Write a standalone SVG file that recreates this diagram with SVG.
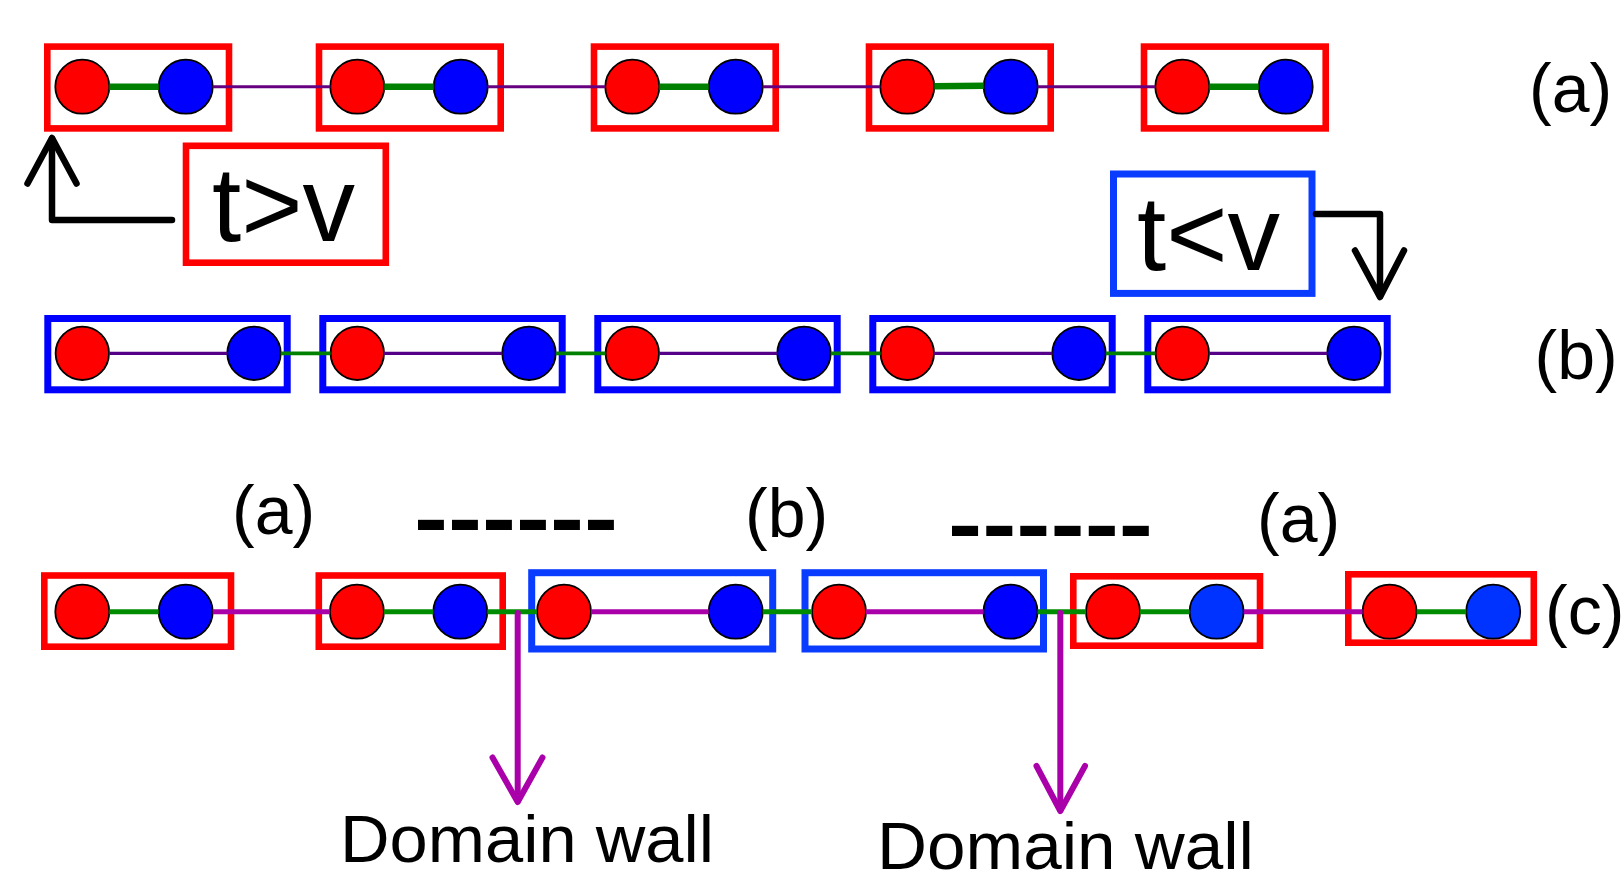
<svg xmlns="http://www.w3.org/2000/svg" width="1622" height="881" viewBox="0 0 1622 881">
<style>
.rbox{fill:none;stroke:#ff0000;stroke-width:6.6}
.bbox{fill:none;stroke:#0000ff;stroke-width:7}
.lbox{fill:none;stroke:#0a3cff;stroke-width:7}
.red{fill:#ff0000;stroke:#000;stroke-width:1.8}
.blue{fill:#0000ff;stroke:#000;stroke-width:1.8}
.blue2{fill:#0033ff;stroke:#000;stroke-width:1.8}
.gA{stroke:#008000;stroke-width:6.5;fill:none}
.pA{stroke:#660080;stroke-width:3;fill:none}
.gB{stroke:#008000;stroke-width:3.8;fill:none}
.pB{stroke:#550088;stroke-width:3.2;fill:none}
.gC{stroke:#008c00;stroke-width:5;fill:none}
.mC{stroke:#aa00aa;stroke-width:5;fill:none}
.arr{stroke:#000;stroke-width:6.5;fill:none;stroke-linecap:round;stroke-linejoin:round}
.dw{stroke:#aa00aa;stroke-width:6;fill:none;stroke-linecap:round;stroke-linejoin:round}
.lbl{font-family:"Liberation Sans",Arial,sans-serif;font-size:68px;fill:#000}
.big{font-family:"Liberation Sans",Arial,sans-serif;font-size:105px;fill:#000}
.dash{font-family:"Liberation Sans",Arial,sans-serif;font-size:85px;font-weight:bold;fill:#000}
.dwt{font-family:"Liberation Sans",Arial,sans-serif;font-size:66px;fill:#000}
</style>

<!-- Row (a) -->
<g id="a1"><rect class="rbox" x="47.3" y="46.6" width="181.7" height="81.8"/><circle class="red" cx="82.3" cy="86.7" r="27"/><circle class="blue" cx="185.7" cy="86.7" r="27"/></g>
<g id="a2"><rect class="rbox" x="319" y="46.6" width="181.7" height="81.8"/><circle class="red" cx="357.3" cy="86.7" r="27"/><circle class="blue" cx="460.7" cy="86.7" r="27"/></g>
<g id="a3"><rect class="rbox" x="594" y="46.6" width="181.7" height="81.8"/><circle class="red" cx="632.3" cy="86.7" r="27"/><circle class="blue" cx="735.7" cy="86.7" r="27"/></g>
<g id="a4"><rect class="rbox" x="869" y="46.6" width="181.7" height="81.8"/><circle class="red" cx="907.3" cy="86.7" r="27"/><circle class="blue" cx="1010.7" cy="86.7" r="27"/></g>
<g id="a5"><rect class="rbox" x="1144" y="46.6" width="181.7" height="81.8"/><circle class="red" cx="1182.3" cy="86.7" r="27"/><circle class="blue" cx="1285.7" cy="86.7" r="27"/></g>
<text id="label-a" class="lbl" x="1529" y="111.7">(a)</text>

<!-- t>v and t<v -->
<g id="tgv"><rect class="rbox" x="186" y="145.8" width="199.8" height="116.9"/><text class="big" x="212" y="241">t&gt;v</text></g>
<g id="tlv"><rect class="lbox" x="1113.5" y="174" width="198.5" height="119.4"/><text class="big" x="1137" y="270">t&lt;v</text></g>

<!-- Row (b) -->
<g id="b1"><rect class="bbox" x="47.8" y="318.5" width="239.4" height="71.3"/><circle class="red" cx="82.3" cy="353.3" r="26.7"/><circle class="blue" cx="254" cy="353.3" r="26.7"/></g>
<g id="b2"><rect class="bbox" x="322.8" y="318.5" width="239.4" height="71.3"/><circle class="red" cx="357.3" cy="353.3" r="26.7"/><circle class="blue" cx="529" cy="353.3" r="26.7"/></g>
<g id="b3"><rect class="bbox" x="597.8" y="318.5" width="239.4" height="71.3"/><circle class="red" cx="632.3" cy="353.3" r="26.7"/><circle class="blue" cx="804" cy="353.3" r="26.7"/></g>
<g id="b4"><rect class="bbox" x="872.8" y="318.5" width="239.4" height="71.3"/><circle class="red" cx="907.3" cy="353.3" r="26.7"/><circle class="blue" cx="1079" cy="353.3" r="26.7"/></g>
<g id="b5"><rect class="bbox" x="1147.8" y="318.5" width="239.4" height="71.3"/><circle class="red" cx="1182.3" cy="353.3" r="26.7"/><circle class="blue" cx="1354" cy="353.3" r="26.7"/></g>
<text id="label-b" class="lbl" x="1534.5" y="379">(b)</text>

<!-- Row (c) -->
<g id="c1"><rect class="rbox" x="44.3" y="575.5" width="186.7" height="71.2"/><circle class="red" cx="82.3" cy="611.7" r="27"/><circle class="blue" cx="185.7" cy="611.7" r="27"/></g>
<g id="c2"><rect class="rbox" x="318.8" y="575.5" width="183.9" height="71.2"/><circle class="red" cx="356.9" cy="611.7" r="27"/><circle class="blue" cx="460.3" cy="611.7" r="27"/></g>
<g id="c3"><rect class="lbox" x="531.7" y="572.7" width="241" height="76.3"/><circle class="red" cx="564" cy="611.7" r="27"/><circle class="blue" cx="735.7" cy="611.7" r="27"/></g>
<g id="c4"><rect class="lbox" x="805" y="572.7" width="238.5" height="76.3"/><circle class="red" cx="839" cy="611.7" r="27"/><circle class="blue" cx="1010.5" cy="611.7" r="27"/></g>
<g id="c5"><rect class="rbox" x="1073.3" y="576.3" width="186.7" height="69.4"/><circle class="red" cx="1113" cy="611.7" r="27"/><circle class="blue2" cx="1216.6" cy="611.7" r="27"/></g>
<g id="c6"><rect class="rbox" x="1348.3" y="574.3" width="185.5" height="68.4"/><circle class="red" cx="1389.6" cy="611.7" r="27"/><circle class="blue2" cx="1493.2" cy="611.7" r="27"/></g>
<text id="label-c" class="lbl" x="1545" y="634">(c)</text>

<text class="lbl" x="232" y="533.5">(a)</text>
<text class="lbl" x="745" y="537">(b)</text>
<text class="lbl" x="1257" y="541.5">(a)</text>
<text class="dash" x="414" y="547" textLength="204" lengthAdjust="spacingAndGlyphs">------</text>
<text class="dash" x="948" y="552.5" textLength="205" lengthAdjust="spacingAndGlyphs">------</text>

<g id="wall1"><text class="dwt" x="340" y="862" textLength="374" lengthAdjust="spacingAndGlyphs">Domain wall</text></g>
<g id="wall2"><text class="dwt" x="877" y="869" textLength="377" lengthAdjust="spacingAndGlyphs">Domain wall</text></g>

<!-- Connectors -->
<g id="connectors">
  <!-- row a -->
  <line class="gA" x1="109.3" y1="86.7" x2="158.7" y2="86.7"/>
  <line class="gA" x1="384.3" y1="86.7" x2="433.7" y2="86.7"/>
  <line class="gA" x1="659.3" y1="86.7" x2="708.7" y2="86.7"/>
  <line class="gA" x1="934.3" y1="86.2" x2="983.7" y2="85.7"/>
  <line class="gA" x1="1209.3" y1="86.7" x2="1258.7" y2="86.7"/>
  <line class="pA" x1="212.7" y1="86.7" x2="330.3" y2="86.7"/>
  <line class="pA" x1="487.7" y1="86.7" x2="605.3" y2="86.7"/>
  <line class="pA" x1="762.7" y1="86.7" x2="880.3" y2="86.7"/>
  <line class="pA" x1="1037.7" y1="86.7" x2="1155.3" y2="86.7"/>
  <!-- row b -->
  <line class="pB" x1="109" y1="353.3" x2="227.3" y2="353.3"/>
  <line class="pB" x1="384" y1="353.3" x2="502.3" y2="353.3"/>
  <line class="pB" x1="659" y1="353.3" x2="777.3" y2="353.3"/>
  <line class="pB" x1="934" y1="353.3" x2="1052.3" y2="353.3"/>
  <line class="pB" x1="1209" y1="353.3" x2="1327.3" y2="353.3"/>
  <line class="gB" x1="280.7" y1="353.3" x2="330.6" y2="353.3"/>
  <line class="gB" x1="555.7" y1="353.3" x2="605.6" y2="353.3"/>
  <line class="gB" x1="830.7" y1="353.3" x2="880.6" y2="353.3"/>
  <line class="gB" x1="1105.7" y1="353.3" x2="1155.6" y2="353.3"/>
  <!-- row c -->
  <line class="gC" x1="109.3" y1="611.7" x2="158.7" y2="611.7"/>
  <line class="mC" x1="212.7" y1="611.7" x2="329.9" y2="611.7"/>
  <line class="gC" x1="383.9" y1="611.7" x2="433.3" y2="611.7"/>
  <line class="gC" x1="487.3" y1="611.7" x2="537" y2="611.7"/>
  <line class="mC" x1="591" y1="611.7" x2="708.7" y2="611.7"/>
  <line class="gC" x1="762.7" y1="611.7" x2="812" y2="611.7"/>
  <line class="mC" x1="866" y1="611.7" x2="983.5" y2="611.7"/>
  <line class="gC" x1="1037.5" y1="611.7" x2="1086" y2="611.7"/>
  <line class="gC" x1="1140" y1="611.7" x2="1189.6" y2="611.7"/>
  <line class="mC" x1="1243.6" y1="611.7" x2="1362.6" y2="611.7"/>
  <line class="gC" x1="1416.6" y1="611.7" x2="1466.2" y2="611.7"/>
  <!-- t>v / t<v arrows -->
  <polyline class="arr" points="172,220 52,220 52,139"/>
  <polyline class="arr" points="27.5,183.5 52,138 76.5,183.5"/>
  <polyline class="arr" points="1316,214 1380,214 1380,296"/>
  <polyline class="arr" points="1355,250.5 1380,297 1404,250.5"/>
  <!-- domain wall arrows -->
  <line class="dw" x1="517.7" y1="613" x2="517.7" y2="801"/>
  <polyline class="dw" points="492.5,757.5 517.7,802 542.5,757.5"/>
  <line class="dw" x1="1060.3" y1="613" x2="1060.3" y2="810"/>
  <polyline class="dw" points="1036.5,766 1060.3,811 1085,766"/>
</g>
</svg>
